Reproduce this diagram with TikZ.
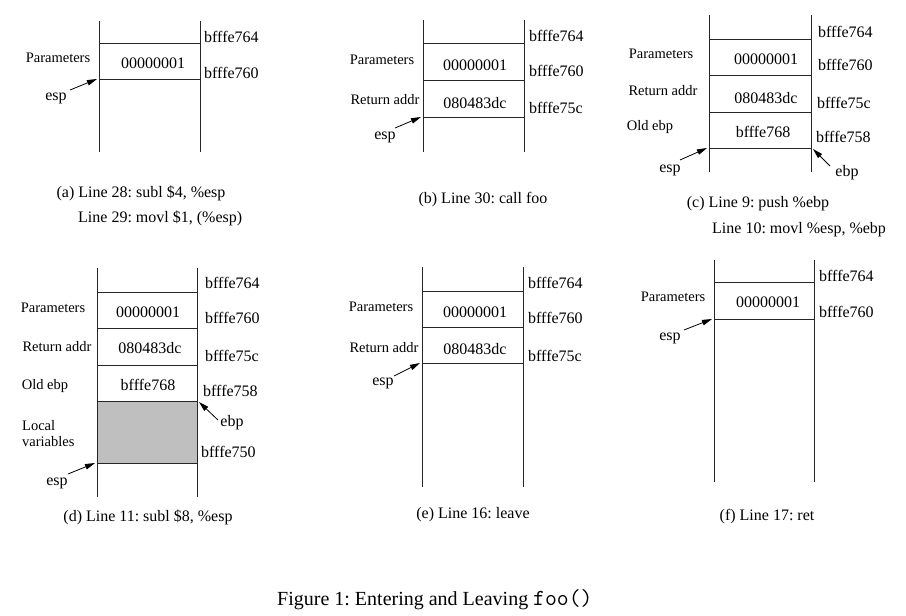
\documentclass[tikz,border=0pt]{standalone}
\usepackage{fontspec}
\setmainfont{Liberation Serif}
\usetikzlibrary{arrows.meta}
\tikzset{
  stk/.style={draw=black!85, line width=0.9pt},
  addr/.style={anchor=west, inner sep=0pt, font=\fontsize{16}{19}\selectfont},
  lbl/.style={inner sep=0pt, font=\fontsize{14.5}{16}\selectfont},
  val/.style={inner sep=0pt, font=\fontsize{16}{19}\selectfont},
  ptr/.style={inner sep=0pt, font=\fontsize{16}{19}\selectfont},
  capt/.style={inner sep=0pt, font=\fontsize{16}{19}\selectfont},
  parr/.style={draw=black, line width=0.8pt, -{Triangle[length=10pt,width=5.5pt]}},
}
\begin{document}
\frenchspacing
\begin{tikzpicture}[x=1pt,y=-1pt]
\useasboundingbox (0,0) rectangle (906,616);
\fill[white] (0,0) rectangle (906,616);

% ---------------- (a)
\draw[stk] (99,21) -- (99,152) (200,21) -- (200,152);
\draw[stk] (99,43) -- (200,43) (99,79) -- (200,79);
\node[addr] (a764) at (204,37) {bfffe764};
\node[addr] (a760) at (204,73) {bfffe760};
\node[lbl] (apar) at (58,58) {Parameters};
\node[val] (av1) at (153,63) {00000001};
\node[ptr] (aesp) at (56,98) {esp};
\coordinate (aespt) at (97,79);
\draw[parr] (70,90) -- (aespt);
\node[capt] (acap) at (141,193) {(a) Line 28: subl \$4, \%esp};
\node[capt, anchor=west] (acap2) at (78,218) {Line 29: movl \$1, (\%esp)};

% ---------------- (b)
\draw[stk] (423,20) -- (423,152) (524,20) -- (524,152);
\draw[stk] (423,43) -- (524,43) (423,80) -- (524,80) (423,117) -- (524,117);
\node[addr] (b764) at (529,36) {bfffe764};
\node[addr] (b760) at (529,71) {bfffe760};
\node[addr] (b75c) at (529,108) {bfffe75c};
\node[lbl] (bpar) at (382,60) {Parameters};
\node[lbl] (bret) at (385,100) {Return addr};
\node[val] (bv1) at (475,65) {00000001};
\node[val] (bv2) at (475,103) {080483dc};
\node[ptr] (besp) at (385,137) {esp};
\coordinate (bespt) at (421,117);
\draw[parr] (395,128) -- (bespt);
\node[capt] (bcap) at (483,200) {(b) Line 30: call foo};

% ---------------- (c)
\draw[stk] (709,15) -- (709,172) (811,15) -- (811,172);
\draw[stk] (709,39) -- (811,39) (709,75) -- (811,75) (709,112) -- (811,112) (709,148) -- (811,148);
\node[addr] (c764) at (818,32) {bfffe764};
\node[addr] (c760) at (818,65) {bfffe760};
\node[addr] (c75c) at (817,103) {bfffe75c};
\node[addr] (c758) at (816,137) {bfffe758};
\node[lbl] (cpar) at (661,54) {Parameters};
\node[lbl] (cret) at (663,91) {Return addr};
\node[lbl] (cold) at (650,127) {Old ebp};
\node[val] (cv1) at (766,59) {00000001};
\node[val] (cv2) at (766,98) {080483dc};
\node[val] (cv3) at (763,132) {bfffe768};
\node[ptr] (cesp) at (670,170) {esp};
\coordinate (cespt) at (707,148);
\draw[parr] (680,160) -- (cespt);
\node[ptr] (cebp) at (847,173) {ebp};
\coordinate (cebpt) at (813,149);
\draw[parr] (830,166) -- (cebpt);
\node[capt] (ccap) at (758,204) {(c) Line 9: push \%ebp};
\node[capt, anchor=west] (ccap2) at (712,230) {Line 10: movl \%esp, \%ebp};

% ---------------- (d)
\fill[black!25] (97,401) rectangle (197,463);
\draw[stk] (97,268) -- (97,497) (197,268) -- (197,497);
\draw[stk] (97,292) -- (197,292) (97,328) -- (197,328) (97,365) -- (197,365) (97,401) -- (197,401) (97,463) -- (197,463);
\node[addr] (d764) at (205,283) {bfffe764};
\node[addr] (d760) at (205,318) {bfffe760};
\node[addr] (d75c) at (205,356) {bfffe75c};
\node[addr] (d758) at (203,391) {bfffe758};
\node[addr] (d750) at (201,452) {bfffe750};
\node[lbl] (dpar) at (53,308) {Parameters};
\node[lbl] (dret) at (57,347) {Return addr};
\node[lbl] (dold) at (45,386) {Old ebp};
\node[lbl, anchor=west, align=left] (dloc) at (22,434) {Local\\variables};
\node[val] (dv1) at (148,312) {00000001};
\node[val] (dv2) at (150,348) {080483dc};
\node[val] (dv3) at (148,385) {bfffe768};
\node[ptr] (desp) at (57,483) {esp};
\coordinate (despt) at (95,463);
\draw[parr] (68,474) -- (despt);
\node[ptr] (debp) at (232,423) {ebp};
\coordinate (debpt) at (199,402);
\draw[parr] (218,420) -- (debpt);
\node[capt] (dcap) at (148,517) {(d) Line 11: subl \$8, \%esp};

% ---------------- (e)
\draw[stk] (422,267) -- (422,487) (523,267) -- (523,487);
\draw[stk] (422,291) -- (523,291) (422,327) -- (523,327) (422,363) -- (523,363);
\node[addr] (e764) at (528,283) {bfffe764};
\node[addr] (e760) at (528,318) {bfffe760};
\node[addr] (e75c) at (528,356) {bfffe75c};
\node[lbl] (epar) at (381,307) {Parameters};
\node[lbl] (eret) at (384,348) {Return addr};
\node[val] (ev1) at (475,312) {00000001};
\node[val] (ev2) at (475,349) {080483dc};
\node[ptr] (eesp) at (383,383) {esp};
\coordinate (eespt) at (420,363);
\draw[parr] (394,376) -- (eespt);
\node[capt] (ecap) at (473,515) {(e) Line 16: leave};

% ---------------- (f)
\draw[stk] (714,260) -- (714,482) (814,260) -- (814,482);
\draw[stk] (714,282) -- (814,282) (714,319) -- (814,319);
\node[addr] (f764) at (819,276) {bfffe764};
\node[addr] (f760) at (819,312) {bfffe760};
\node[lbl] (fpar) at (673,297) {Parameters};
\node[val] (fv1) at (768,302) {00000001};
\node[ptr] (fesp) at (670,338) {esp};
\coordinate (fespt) at (712,319);
\draw[parr] (684,330) -- (fespt);
\node[capt] (fcap) at (767,517) {(f) Line 17: ret};

% ---------------- figure caption
\node[inner sep=0pt, anchor=west, font=\fontsize{20}{24}\selectfont] (fig) at (277,600) {Figure 1: Entering and Leaving {\ttfamily\fontsize{23}{24}\selectfont foo()}};
\end{tikzpicture}
\end{document}
